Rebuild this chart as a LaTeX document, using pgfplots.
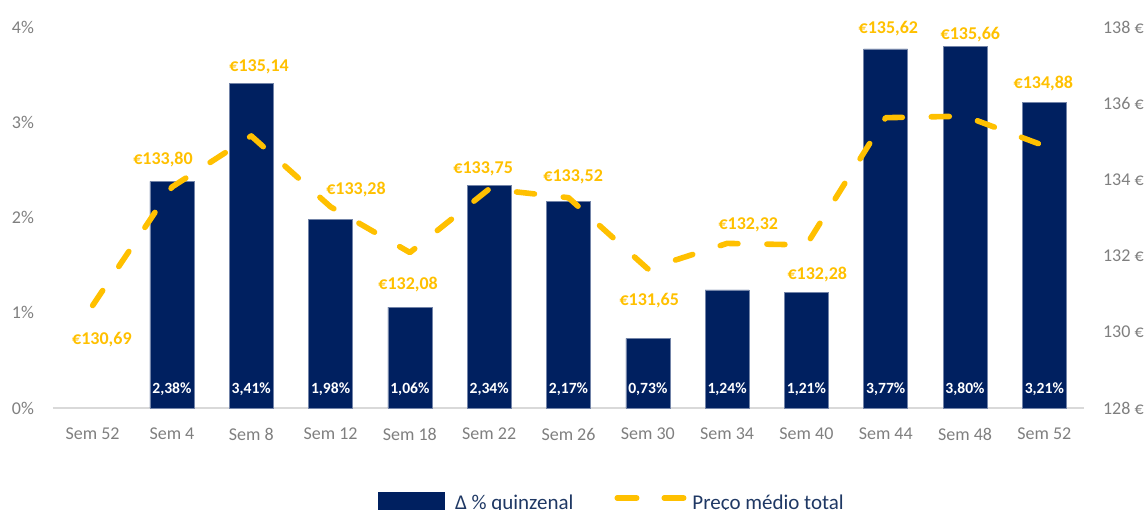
\documentclass[border=0pt]{standalone}
\usepackage{pgfplots}
\pgfplotsset{compat=1.18}
\usepackage{fontspec}
\setmainfont{Carlito}
\definecolor{navy}{HTML}{002060}
\definecolor{gold}{HTML}{FFC000}
\definecolor{tickgray}{HTML}{7F7F7F}
\definecolor{axisgray}{HTML}{D9D9D9}
\definecolor{legtext}{HTML}{1F3864}
\newcommand{\barlab}[2]{\node[font=\bfseries\fontsize{7.8}{9}\selectfont, text=white, anchor=center, text height=4.9pt, text depth=0pt, inner sep=0pt] at (axis cs:#1,0.203) {#2};}
\newcommand{\linelab}[3]{\node[font=\bfseries\fontsize{9}{10}\selectfont, text=gold, anchor=center, text height=5.7pt, text depth=0pt, inner sep=0pt] at (axis cs:#1,#2) {#3};}
\begin{document}
\begin{tikzpicture}
\begin{axis}[
  at={(26.5pt,50.5pt)}, anchor=south west,
  scale only axis, width=515.5pt, height=190.5pt,
  xmin=-0.5, xmax=12.5, ymin=0, ymax=4,
  axis lines*=left,
  y axis line style={draw=none},
  x axis line style={draw=axisgray, line width=1pt},
  major tick length=0pt,
  xtick={0,...,12},
  xticklabels={Sem 52,Sem 4,Sem 8,Sem 12,Sem 18,Sem 22,Sem 26,Sem 30,Sem 34,Sem 40,Sem 44,Sem 48,Sem 52},
  ytick={0,1,2,3,4},
  yticklabel={\pgfmathprintnumber{\tick}\%},
  /pgf/number format/assume math mode=true,
  tick label style={font=\fontsize{9}{10}\selectfont, text=tickgray},
  xticklabel style={yshift=-6.5pt},
  yticklabel style={xshift=-6pt},
  clip=false,
]
\addplot[ybar, bar width=22pt, fill=navy, draw=navy!55!white, line width=0.3pt] coordinates {
  (1,2.38) (2,3.41) (3,1.98) (4,1.06) (5,2.34) (6,2.17) (7,0.73) (8,1.24) (9,1.21) (10,3.77) (11,3.80) (12,3.21)};
\barlab{1}{2,38\%}
\barlab{2}{3,41\%}
\barlab{3}{1,98\%}
\barlab{4}{1,06\%}
\barlab{5}{2,34\%}
\barlab{6}{2,17\%}
\barlab{7}{0,73\%}
\barlab{8}{1,24\%}
\barlab{9}{1,21\%}
\barlab{10}{3,77\%}
\barlab{11}{3,80\%}
\barlab{12}{3,21\%}
\end{axis}
\begin{axis}[
  at={(26.5pt,50.5pt)}, anchor=south west,
  scale only axis, width=515.5pt, height=190.5pt,
  xmin=-0.5, xmax=12.5, ymin=128, ymax=138,
  axis x line=none,
  axis y line*=right,
  y axis line style={draw=none},
  major tick length=0pt,
  ytick={128,130,...,138},
  yticklabel={\pgfmathprintnumber{\tick}~€},
  /pgf/number format/assume math mode=true,
  tick label style={font=\fontsize{9}{10}\selectfont, text=tickgray},
  yticklabel style={xshift=6pt},
  clip=false,
  legend columns=2,
  legend style={at={(0,0)}, anchor=north west, xshift=162.5pt, yshift=-42pt,
    draw=none, fill=none, inner sep=0pt, outer sep=0pt,
    font=\fontsize{10.5}{12}\selectfont, text=legtext,
    nodes={inner sep=0pt},
    /tikz/every odd column/.append style={column sep=3pt},
    /tikz/every even column/.append style={column sep=20.5pt}},
]
\addlegendimage{legend image code/.code={\fill[navy, draw=none] (0pt,-8pt) rectangle (33.5pt,6pt); \path[draw=none, fill=none] (33.5pt,0pt) -- (35.5pt,0pt);}}
\addlegendentry{Δ \% quinzenal}
\addplot[gold, line width=2.8pt, line cap=round, line join=round, dash pattern=on 9pt off 14.5pt,
  legend image code/.code={\draw[gold, line width=2.8pt, line cap=round, dash pattern=on 9.7pt off 13.8pt] (1.4pt,3pt) -- (34.6pt,3pt);}] coordinates {
  (0,130.69) (1,133.80) (2,135.14) (3,133.28) (4,132.08) (5,133.75) (6,133.52) (7,131.65) (8,132.32) (9,132.28) (10,135.62) (11,135.66) (12,134.88)};
\addlegendentry{Preço médio total}
\linelab{0.117}{129.81}{€130,69}
\linelab{0.887}{134.535}{€133,80}
\linelab{2.099}{136.976}{€135,14}
\linelab{3.321}{133.748}{€133,28}
\linelab{3.978}{131.255}{€132,08}
\linelab{4.924}{134.312}{€133,75}
\linelab{6.059}{134.089}{€133,52}
\linelab{7.018}{130.835}{€131,65}
\linelab{8.267}{132.829}{€132,32}
\linelab{9.137}{131.517}{€132,28}
\linelab{10.033}{137.987}{€135,62}
\linelab{11.067}{137.816}{€135,66}
\linelab{11.988}{136.543}{€134,88}
\end{axis}
\pgfresetboundingbox
\path[use as bounding box] (0pt,0pt) rectangle (573pt,254.5pt);
\end{tikzpicture}
\end{document}
